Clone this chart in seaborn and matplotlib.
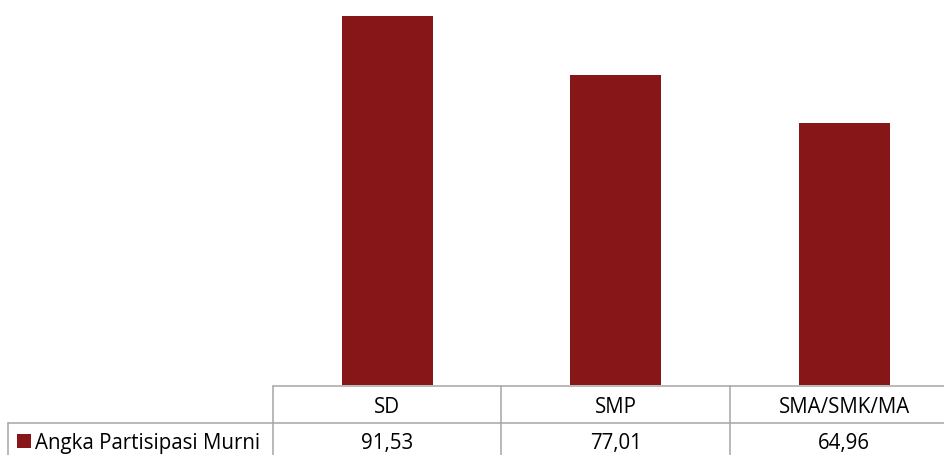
import matplotlib
matplotlib.use("Agg")
import matplotlib.pyplot as plt
from matplotlib.lines import Line2D
from matplotlib.patches import Rectangle
import seaborn as sns
import pandas as pd

# Angka Partisipasi Murni per jenjang pendidikan
categories = ["SD", "SMP", "SMA/SMK/MA"]
values = [91.53, 77.01, 64.96]
value_labels = ["91,53", "77,01", "64,96"]
series_name = "Angka Partisipasi Murni"

bar_color = "#861617"
grid_color = "#a6a6a6"
font_family = ["Open Sans", "DejaVu Sans"]

sns.set_theme(style="white")
plt.rcParams["font.family"] = font_family

W, H = 945, 455
fig = plt.figure(figsize=(W / 100, H / 100), dpi=100)

# plot area in pixel units (left, top, right, baseline)
px_left, px_right = 273, 958.5
px_base = 385
ax = fig.add_axes([px_left / W, (H - px_base) / H,
                   (px_right - px_left) / W, px_base / H])

df = pd.DataFrame({"cat": categories, "val": values})
sns.barplot(data=df, x="cat", y="val", color=bar_color, saturation=1,
            width=0.4, ax=ax, edgecolor="none")
ax.set_xlim(-0.5, 2.5)
ax.set_ylim(0, 95.5)
ax.set_axis_off()

# data table beneath the bars
def hline(x0, x1, y):
    fig.add_artist(Line2D([x0 / W, x1 / W], [1 - y / H, 1 - y / H],
                          color=grid_color, lw=1.1, transform=fig.transFigure))

def vline(x, y0, y1):
    fig.add_artist(Line2D([x / W, x / W], [1 - y0 / H, 1 - y1 / H],
                          color=grid_color, lw=1.1, transform=fig.transFigure))

cell_w = (px_right - px_left) / 3
row1_top, row2_top = 385.5, 422.5
hline(px_left, W, row1_top)
hline(8, W, row2_top)
vline(8, row2_top, H)
for i in range(3):
    vline(px_left + i * cell_w, row1_top, H)

fs = 14.8
for i, (c, v) in enumerate(zip(categories, value_labels)):
    cx = (px_left + (i + 0.5) * cell_w) / W
    fig.text(cx, 1 - 405 / H, c, ha="center", va="center_baseline",
             fontsize=fs, color="#000000")
    fig.text(cx, 1 - 441.5 / H, v, ha="center", va="center_baseline",
             fontsize=fs, color="#000000")

fig.add_artist(Rectangle((17 / W, 1 - 448 / H), 14 / W, 14 / H,
                         facecolor=bar_color, edgecolor="none",
                         transform=fig.transFigure))
fig.text(35 / W, 1 - 441.5 / H, series_name, ha="left", va="center_baseline",
         fontsize=fs, color="#000000")

fig.savefig("out.png", dpi=100, facecolor="white")
